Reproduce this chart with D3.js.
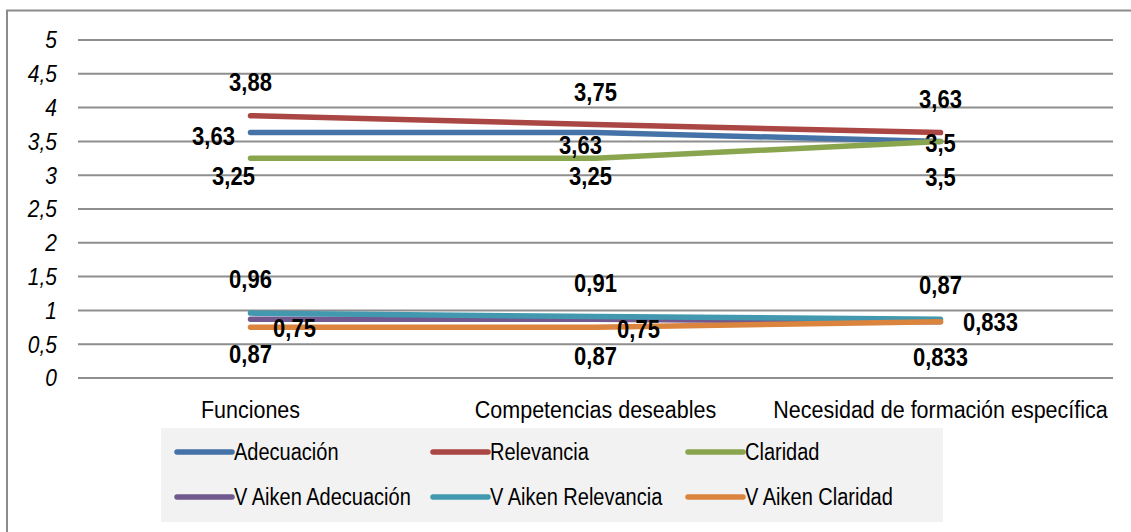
<!DOCTYPE html>
<html>
<head>
<meta charset="utf-8">
<script src="https://cdn.jsdelivr.net/npm/d3@7"></script>
<style>
  html, body { margin: 0; padding: 0; background: #fff; }
  svg { display: block; }
</style>
</head>
<body>
<svg id="chart" width="1131" height="532"></svg>
<script>
// Categories on the x axis
const categories = ["Funciones", "Competencias deseables", "Necesidad de formación específica"];

// Series names (legend order)
const seriesNames = ["Adecuación", "Relevancia", "Claridad",
                     "V Aiken Adecuación", "V Aiken Relevancia", "V Aiken Claridad"];

// Values per series, one per category
const adecuacion        = [3.63, 3.63, 3.5];
const relevancia        = [3.88, 3.75, 3.63];
const claridad          = [3.25, 3.25, 3.5];
const vAikenAdecuacion  = [0.87, 0.87, 0.833];
const vAikenRelevancia  = [0.96, 0.91, 0.87];
const vAikenClaridad    = [0.75, 0.75, 0.833];

// Y axis ticks
const yTicks = [0, 0.5, 1, 1.5, 2, 2.5, 3, 3.5, 4, 4.5, 5];

const seriesValues = [adecuacion, relevancia, claridad,
                      vAikenAdecuacion, vAikenRelevancia, vAikenClaridad];

const colors = ["#4572A7", "#AA4643", "#89A54E", "#71588F", "#4198AF", "#DB843D"];

// Data-label placement relative to each point: [dx, dy]
const labelOffsets = [
  [[-37, 4], [-15, 13], [0, 2]],
  [[0, -34], [0, -32], [0, -33]],
  [[-17, 18], [-5, 18], [0, 36]],
  [[0, 35], [0, 37], [0, 35]],
  [[0, -34], [0, -33], [0, -34]],
  [[44, 1], [43, 2], [50, 0]]
];

const svg = d3.select("#chart");
const plot = { left: 78, right: 1113, top: 40, bottom: 378 };
const FONT = "Liberation Sans, Arial, sans-serif";
const STRETCH = 1.15; // glyphs are drawn slightly tall

const x = d3.scaleBand().domain(categories).range([plot.left, plot.right]);
const y = d3.scaleLinear().domain([0, 5]).range([plot.bottom, plot.top]);
const cx = c => x(c) + x.bandwidth() / 2;
const place = (px, py) => `translate(${px},${py}) scale(1,${STRETCH})`;

// Outer frame (top and left edges)
svg.append("path")
  .attr("d", "M7,533 L7,10.5 L1132,10.5")
  .attr("fill", "none").attr("stroke", "#8c8c8c").attr("stroke-width", 2);

// Horizontal gridlines
svg.append("g").selectAll("line").data(yTicks).join("line")
  .attr("x1", plot.left).attr("x2", plot.right)
  .attr("y1", d => y(d)).attr("y2", d => y(d))
  .attr("stroke", "#8e8e8e").attr("stroke-width", 2);

// Y tick labels
const fmt = v => String(v).replace(".", ",");
svg.append("g").selectAll("text").data(yTicks).join("text")
  .attr("transform", d => place(57, y(d)))
  .attr("dy", "0.35em")
  .attr("text-anchor", "end")
  .attr("font-family", FONT)
  .attr("font-style", "italic").attr("font-size", 21)
  .attr("fill", "#000")
  .text(fmt);

// Category labels
svg.append("g").selectAll("text").data(categories).join("text")
  .attr("transform", d => place(cx(d), 418))
  .attr("text-anchor", "middle")
  .attr("font-family", FONT)
  .attr("font-size", 21.5)
  .attr("fill", "#000")
  .text(d => d);

// Series lines
const line = d3.line().x((d, i) => cx(categories[i])).y(d => y(d));
svg.append("g").selectAll("path").data(seriesValues).join("path")
  .attr("d", d => line(d))
  .attr("fill", "none")
  .attr("stroke", (d, i) => colors[i])
  .attr("stroke-width", 5.5)
  .attr("stroke-linecap", "round")
  .attr("stroke-linejoin", "round");

// Data labels
const labelData = [];
seriesValues.forEach((vals, s) => vals.forEach((v, i) => {
  labelData.push({ s, i, v });
}));
svg.append("g").selectAll("text").data(labelData).join("text")
  .attr("transform", d => place(
    cx(categories[d.i]) + labelOffsets[d.s][d.i][0],
    y(d.v) + labelOffsets[d.s][d.i][1]))
  .attr("dy", "0.35em")
  .attr("text-anchor", "middle")
  .attr("font-family", FONT)
  .attr("font-weight", "bold").attr("font-size", 22)
  .attr("fill", "#000")
  .text(d => fmt(d.v));

// Legend
const legend = svg.append("g");
legend.append("rect")
  .attr("x", 161).attr("y", 428).attr("width", 782).attr("height", 94)
  .attr("fill", "#f2f2f2");
const colX = [177, 433, 688];
const rowY = [452, 497];
const items = legend.selectAll("g").data(seriesNames).join("g")
  .attr("transform", (d, i) => `translate(${colX[i % 3]},${rowY[Math.floor(i / 3)]})`);
items.append("line")
  .attr("x1", 0).attr("x2", 55).attr("y1", 0).attr("y2", 0)
  .attr("stroke", (d, i) => colors[i]).attr("stroke-width", 5.5)
  .attr("stroke-linecap", "round");
items.append("text")
  .attr("transform", place(57, 0))
  .attr("dy", "0.35em")
  .attr("font-family", FONT)
  .attr("font-size", 20)
  .attr("fill", "#000")
  .text(d => d);
</script>
</body>
</html>
